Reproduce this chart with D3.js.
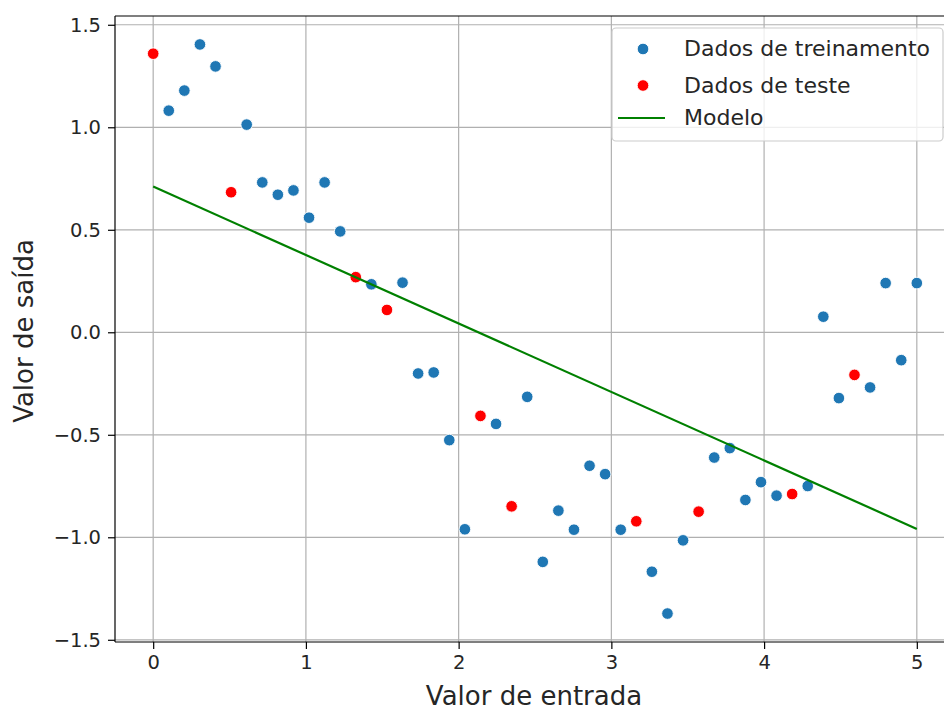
<!DOCTYPE html>
<html>
<head>
<meta charset="utf-8">
<script src="https://cdn.jsdelivr.net/npm/d3@7"></script>
<style>
  html, body { margin: 0; padding: 0; background: #fff; }
  svg { display: block; font-family: "DejaVu Sans", sans-serif; }
</style>
</head>
<body>
<svg id="chart" width="944" height="711"></svg>
<script>
// Input samples: 50 evenly spaced x positions on [0, 5]
const nSamples = 50;
const xValues = d3.range(nSamples).map(i => i * 5 / (nSamples - 1));

// Observed outputs, one per sample
const yValues = [
  1.359, 1.081, 1.179, 1.404, 1.297, 0.683, 1.013, 0.731, 0.671, 0.692,
  0.559, 0.731, 0.492, 0.269, 0.234, 0.109, 0.242, -0.201, -0.196, -0.526,
  -0.961, -0.408, -0.447, -0.849, -0.315, -1.120, -0.870, -0.963, -0.651, -0.692,
  -0.963, -0.922, -1.168, -1.372, -1.015, -0.875, -0.611, -0.565, -0.818, -0.731,
  -0.797, -0.789, -0.750, 0.076, -0.321, -0.208, -0.269, 0.240, -0.136, 0.240
];

// Indices held out as test data
const testIndices = [0, 5, 13, 15, 21, 23, 31, 35, 41, 45];

// Fitted linear model
const modelIntercept = 0.711;
const modelSlope = -0.334;

// Axis ticks
const xTicks = [0, 1, 2, 3, 4, 5];
const yTicks = [-1.5, -1.0, -0.5, 0.0, 0.5, 1.0, 1.5];

// Legend labels
const legendLabels = ["Dados de treinamento", "Dados de teste", "Modelo"];
const xLabel = "Valor de entrada";
const yLabel = "Valor de saída";

const colors = { train: "#1f77b4", test: "#ff0000", model: "#008000" };

const points = xValues.map((x, i) => ({ x, y: yValues[i], test: testIndices.includes(i) }));
const train = points.filter(p => !p.test);
const test = points.filter(p => p.test);

// Plot area (right edge extends beyond the canvas)
const plot = { left: 115, top: 16, right: 955, bottom: 642 };

// Domains with a 5% margin on each side
function padded(ext) {
  const m = (ext[1] - ext[0]) * 0.05;
  return [ext[0] - m, ext[1] + m];
}
const x = d3.scaleLinear().domain(padded(d3.extent(xValues))).range([plot.left, plot.right]);
const y = d3.scaleLinear().domain(padded(d3.extent(yValues))).range([plot.bottom, plot.top]);

const svg = d3.select("#chart");

// Grid
const grid = svg.append("g").attr("stroke", "#b0b0b0").attr("stroke-width", 1.2);
grid.selectAll("line.gx").data(xTicks).join("line")
  .attr("x1", d => x(d)).attr("x2", d => x(d))
  .attr("y1", plot.top).attr("y2", plot.bottom);
grid.selectAll("line.gy").data(yTicks).join("line")
  .attr("x1", plot.left).attr("x2", plot.right)
  .attr("y1", d => y(d)).attr("y2", d => y(d));

// Scatter points
function drawPoints(data, color) {
  svg.append("g").selectAll("circle").data(data).join("circle")
    .attr("cx", d => x(d.x)).attr("cy", d => y(d.y))
    .attr("r", 5.8)
    .attr("fill", color)
    .attr("stroke", "#ffffff").attr("stroke-width", 0.9);
}
drawPoints(train, colors.train);
drawPoints(test, colors.test);

// Model line
const modelX = d3.extent(xValues);
svg.append("line")
  .attr("x1", x(modelX[0])).attr("y1", y(modelIntercept + modelSlope * modelX[0]))
  .attr("x2", x(modelX[1])).attr("y2", y(modelIntercept + modelSlope * modelX[1]))
  .attr("stroke", colors.model).attr("stroke-width", 2.2);

// Axes
const xAxis = d3.axisBottom(x).tickValues(xTicks).tickFormat(d3.format("d")).tickSize(7).tickPadding(6);
const yAxis = d3.axisLeft(y).tickValues(yTicks).tickFormat(d3.format(".1f")).tickSize(7).tickPadding(7);

const gx = svg.append("g").attr("transform", `translate(0,${plot.bottom})`).call(xAxis);
const gy = svg.append("g").attr("transform", `translate(${plot.left},0)`).call(yAxis);
[gx, gy].forEach(g => {
  g.select(".domain").remove();
  g.selectAll(".tick line").attr("stroke", "#000").attr("stroke-width", 1.2);
  g.selectAll(".tick text").attr("fill", "#262626").style("font-size", "19.5px").style("font-family", "DejaVu Sans");
});

// Spines
const spines = svg.append("g").attr("stroke", "#000").attr("stroke-width", 1.2);
spines.append("line").attr("x1", plot.left).attr("x2", plot.left).attr("y1", plot.top).attr("y2", plot.bottom);
spines.append("line").attr("x1", plot.left).attr("x2", plot.right).attr("y1", plot.top).attr("y2", plot.top);
spines.append("line").attr("x1", plot.left).attr("x2", plot.right).attr("y1", plot.bottom).attr("y2", plot.bottom);

// Axis labels
svg.append("text")
  .attr("x", (plot.left + plot.right) / 2 - 1).attr("y", 705)
  .attr("text-anchor", "middle").attr("fill", "#262626")
  .style("font-size", "26px").text(xLabel);
svg.append("text")
  .attr("transform", `translate(33,${(plot.top + plot.bottom) / 2 + 2}) rotate(-90)`)
  .attr("text-anchor", "middle").attr("fill", "#262626")
  .style("font-size", "26px").text(yLabel);

// Legend
const legend = svg.append("g");
legend.append("rect")
  .attr("x", 612).attr("y", 28).attr("width", 331).attr("height", 113)
  .attr("rx", 4).attr("ry", 4)
  .attr("fill", "#ffffff").attr("fill-opacity", 0.8)
  .attr("stroke", "#cccccc").attr("stroke-width", 1.2);

const rowY = [49, 85.5, 118];
legend.append("circle").attr("cx", 643).attr("cy", rowY[0]).attr("r", 5.8)
  .attr("fill", colors.train).attr("stroke", "#fff").attr("stroke-width", 0.9);
legend.append("circle").attr("cx", 643).attr("cy", rowY[1]).attr("r", 5.8)
  .attr("fill", colors.test).attr("stroke", "#fff").attr("stroke-width", 0.9);
legend.append("line").attr("x1", 618).attr("x2", 665).attr("y1", rowY[2]).attr("y2", rowY[2])
  .attr("stroke", colors.model).attr("stroke-width", 2.2);

legend.selectAll("text").data(legendLabels).join("text")
  .attr("x", 684).attr("y", (d, i) => rowY[i] + 7)
  .attr("fill", "#262626")
  .style("font-size", "22px")
  .text(d => d);
</script>
</body>
</html>
